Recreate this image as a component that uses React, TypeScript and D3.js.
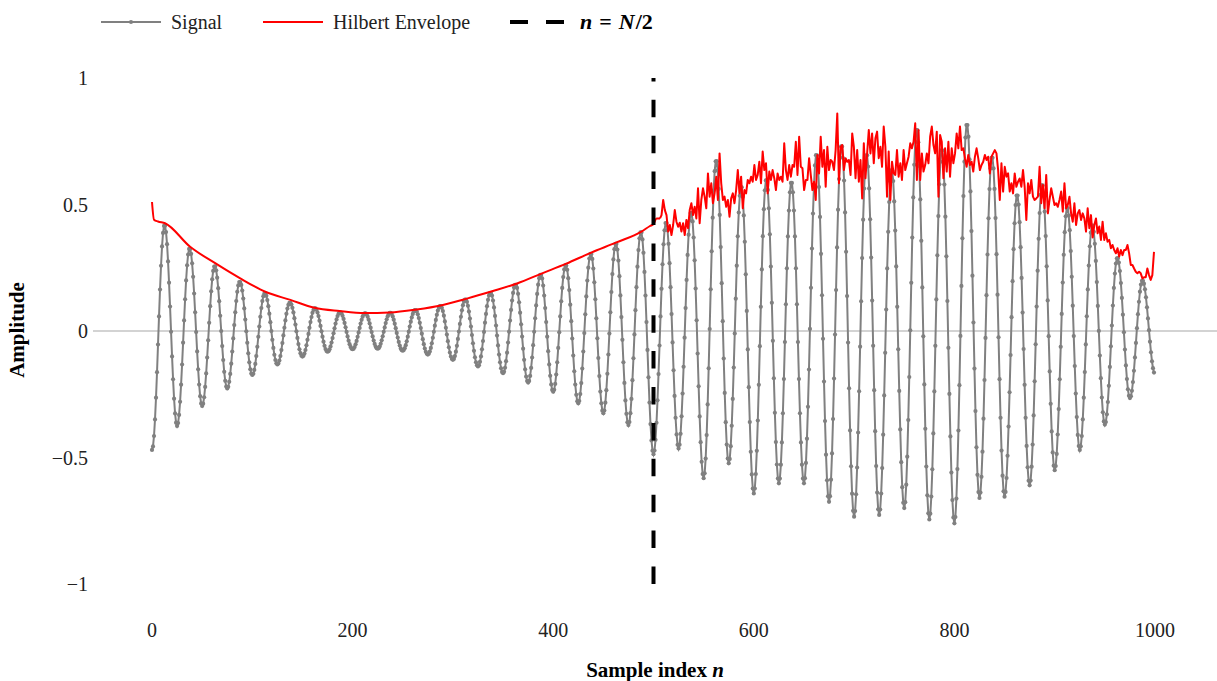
import React from "react";
import * as d3 from "d3";

// Axis ticks
const X_TICKS = [0, 200, 400, 600, 800, 1000];
const Y_TICKS = [-1, -0.5, 0, 0.5, 1];

// Signal: 1000 samples, one cycle every 25 samples.
const N_SAMPLES = 1000;
const HALF_CYCLE = 12.5;
const MIDPOINT = 500;

// Trough values at n = 0, 25, 50, ..., 1000
const TROUGHS = [
  -0.47, -0.375, -0.296, -0.227, -0.174, -0.132, -0.101, -0.082, -0.072, -0.07,
  -0.078, -0.093, -0.114, -0.14, -0.167, -0.204, -0.24, -0.286, -0.325, -0.372,
  -0.487, -0.464, -0.582, -0.523, -0.642, -0.602, -0.602, -0.675, -0.734, -0.727,
  -0.7, -0.745, -0.76, -0.66, -0.655, -0.61, -0.55, -0.47, -0.37, -0.265, -0.17,
];

// Peak values at n = 12.5, 37.5, ..., 987.5
const PEAKS = [
  0.419, 0.327, 0.257, 0.195, 0.149, 0.112, 0.09, 0.074, 0.07, 0.072,
  0.083, 0.099, 0.125, 0.151, 0.184, 0.224, 0.261, 0.307, 0.347, 0.393,
  0.43, 0.47, 0.676, 0.573, 0.6, 0.59, 0.7, 0.735, 0.7, 0.64,
  0.8, 0.72, 0.82, 0.69, 0.54, 0.58, 0.49, 0.42, 0.29, 0.2,
];

// Hilbert envelope, smooth first half (sample index, amplitude)
const ENV_SMOOTH_N = [
  0, 2, 6, 13, 38, 63, 88, 113, 138, 162, 187, 212, 237, 264, 289, 314, 339,
  364, 389, 413, 438, 463, 488, 496.5, 500, 503, 506.5,
];
const ENV_SMOOTH_V = [
  0.51, 0.44, 0.433, 0.426, 0.333, 0.268, 0.208, 0.155, 0.123, 0.092, 0.079,
  0.071, 0.073, 0.085, 0.102, 0.128, 0.157, 0.188, 0.228, 0.266, 0.31, 0.35,
  0.393, 0.415, 0.423, 0.445, 0.445,
];

// Hilbert envelope, noisy second half, evenly spaced from n = 508 to n = 999
const ENV_NOISY_START = 508;
const ENV_NOISY_END = 999;
const ENV_NOISY = [
  0.458, 0.518, 0.478, 0.458, 0.393, 0.419, 0.379, 0.419, 0.478, 0.432,
  0.412, 0.428, 0.393, 0.426, 0.379, 0.439, 0.406, 0.478, 0.505, 0.458,
  0.491, 0.445, 0.564, 0.426, 0.518, 0.564, 0.531, 0.485, 0.623, 0.531,
  0.584, 0.505, 0.544, 0.61, 0.518, 0.702, 0.584, 0.518, 0.531, 0.491,
  0.518, 0.452, 0.524, 0.544, 0.505, 0.557, 0.636, 0.544, 0.61, 0.485,
  0.557, 0.544, 0.597, 0.584, 0.61, 0.59, 0.656, 0.597, 0.617, 0.669,
  0.584, 0.709, 0.636, 0.663, 0.544, 0.63, 0.597, 0.636, 0.604, 0.557,
  0.623, 0.597, 0.61, 0.59, 0.742, 0.636, 0.597, 0.656, 0.61, 0.656,
  0.649, 0.748, 0.617, 0.768, 0.649, 0.643, 0.557, 0.597, 0.597, 0.683,
  0.617, 0.557, 0.59, 0.518, 0.696, 0.623,
  0.768, 0.649, 0.715, 0.57, 0.728, 0.636, 0.676, 0.669, 0.636, 0.715,
  0.86, 0.584, 0.728, 0.735, 0.636, 0.683, 0.669, 0.676, 0.617, 0.781,
  0.728, 0.604, 0.715, 0.59, 0.676, 0.524, 0.742, 0.604, 0.702, 0.794,
  0.702, 0.781, 0.663, 0.762, 0.788, 0.683, 0.728, 0.649, 0.808, 0.728,
  0.531, 0.709, 0.518, 0.669, 0.623, 0.617, 0.715, 0.61, 0.663, 0.597,
  0.715, 0.636, 0.663, 0.689, 0.742, 0.722, 0.748, 0.821, 0.597, 0.794,
  0.597, 0.702, 0.63, 0.656, 0.702, 0.663, 0.768, 0.808, 0.735, 0.702,
  0.788, 0.531, 0.775, 0.748, 0.604, 0.722, 0.63, 0.748, 0.61, 0.722,
  0.663, 0.702, 0.781, 0.722, 0.808, 0.715, 0.722, 0.683, 0.649, 0.696,
  0.656, 0.669, 0.63, 0.689, 0.722, 0.683, 0.636, 0.656, 0.669,
  0.696, 0.676, 0.689, 0.623, 0.689, 0.702, 0.715, 0.702, 0.636, 0.518,
  0.663, 0.551, 0.649, 0.61, 0.623, 0.551, 0.584, 0.544, 0.623, 0.57,
  0.59, 0.603, 0.57, 0.636, 0.57, 0.439, 0.584, 0.544, 0.597, 0.531,
  0.518, 0.524, 0.531, 0.649, 0.505, 0.577, 0.485, 0.617, 0.465, 0.518,
  0.564, 0.531, 0.498, 0.505, 0.491, 0.518, 0.551, 0.472, 0.584, 0.485,
  0.498, 0.531, 0.465, 0.432, 0.505, 0.419, 0.465, 0.478, 0.439, 0.465,
  0.445, 0.393, 0.485, 0.406, 0.458, 0.37, 0.419, 0.445, 0.386, 0.413,
  0.36, 0.432, 0.36, 0.386, 0.353, 0.36, 0.327, 0.34, 0.32, 0.307,
  0.327, 0.294, 0.32, 0.3, 0.32, 0.32, 0.34, 0.307, 0.261, 0.261,
  0.247, 0.234, 0.228, 0.234, 0.228, 0.208, 0.212, 0.212, 0.247, 0.221,
  0.202, 0.221, 0.313,
];

const W = 1217;
const H = 681;
const FONT = "Liberation Serif, DejaVu Serif, serif";
const GRAY = "#808080";

// Sample value between consecutive extrema, following a half-cosine swing
function sampleAt(n: number): number {
  const j = Math.floor(n / HALF_CYCLE);
  const ext = (k: number) =>
    k % 2 === 0 ? TROUGHS[Math.min(k / 2, TROUGHS.length - 1)] : PEAKS[(k - 1) / 2];
  if (j >= 2 * PEAKS.length) return TROUGHS[TROUGHS.length - 1];
  const t = (n - j * HALF_CYCLE) / HALF_CYCLE;
  const a = ext(j);
  const b = ext(j + 1);
  return a + ((b - a) * (1 - Math.cos(Math.PI * t))) / 2;
}

const txt = (size: number, extra: React.CSSProperties = {}): React.CSSProperties => ({
  fontFamily: FONT,
  fontSize: size,
  ...extra,
});

export default function App() {
  const x = d3.scaleLinear().domain([0, 1000]).range([152, 1155]);
  const y = d3.scaleLinear().domain([-1, 1]).range([584, 78]);

  const signal = d3.range(N_SAMPLES).map((n) => ({ n, v: sampleAt(n) }));

  const line = d3
    .line<{ n: number; v: number }>()
    .x((d) => x(d.n))
    .y((d) => y(d.v));

  const smoothEnv = ENV_SMOOTH_N.map((n, i) => ({ n, v: ENV_SMOOTH_V[i] }));
  const noisyStep = (ENV_NOISY_END - ENV_NOISY_START) / (ENV_NOISY.length - 1);
  const noisyEnv = [smoothEnv[smoothEnv.length - 1]].concat(
    ENV_NOISY.map((v, i) => ({ n: ENV_NOISY_START + i * noisyStep, v }))
  );
  const smoothPath = d3
    .line<{ n: number; v: number }>()
    .x((d) => x(d.n))
    .y((d) => y(d.v))
    .curve(d3.curveMonotoneX)(smoothEnv);

  const fmt = (v: number) => (v < 0 ? "\u2212" + String(-v) : String(v));

  return (
    <svg
      width={W}
      height={H}
      style={{ position: "absolute", left: 0, top: 0, display: "block", background: "#fff" }}
    >
      {/* zero line */}
      <line x1={93} x2={W} y1={y(0)} y2={y(0)} stroke="#c4c4c4" strokeWidth={1.6} />

      {/* signal */}
      <path d={line(signal) ?? ""} fill="none" stroke={GRAY} strokeWidth={2} />
      {signal.map((d) => (
        <circle key={d.n} cx={x(d.n)} cy={y(d.v)} r={2.1} fill={GRAY} />
      ))}

      {/* envelope */}
      <path d={smoothPath ?? ""} fill="none" stroke="#ff0000" strokeWidth={2} />
      <path d={line(noisyEnv) ?? ""} fill="none" stroke="#ff0000" strokeWidth={2} strokeLinejoin="round" />

      {/* n = N/2 marker */}
      <line
        x1={x(MIDPOINT)}
        x2={x(MIDPOINT)}
        y1={y(-1)}
        y2={y(1)}
        stroke="#000"
        strokeWidth={4}
        strokeDasharray="17.5 18.4"
      />

      {/* y ticks */}
      {Y_TICKS.map((t) => (
        <text key={t} x={88} y={y(t)} dy="0.35em" textAnchor="end" style={txt(20)} fill="#222">
          {fmt(t)}
        </text>
      ))}
      {/* x ticks */}
      {X_TICKS.map((t) => (
        <text key={t} x={x(t)} y={637} textAnchor="middle" style={txt(20)} fill="#222">
          {t}
        </text>
      ))}

      {/* axis titles */}
      <text x={655} y={677} textAnchor="middle" style={txt(21, { fontWeight: "bold" })} fill="#000">
        Sample index <tspan style={{ fontStyle: "italic" }}>n</tspan>
      </text>
      <text
        transform={`translate(24, 330) rotate(-90)`}
        textAnchor="middle"
        style={txt(21, { fontWeight: "bold" })}
        fill="#000"
      >
        Amplitude
      </text>

      {/* legend */}
      <g>
        <line x1={101} x2={161} y1={22} y2={22} stroke={GRAY} strokeWidth={2} />
        <circle cx={131} cy={22} r={2.1} fill={GRAY} />
        <text x={171} y={22} dy="0.33em" style={txt(20)} fill="#222">
          Signal
        </text>
        <line x1={263} x2={323} y1={22} y2={22} stroke="#ff0000" strokeWidth={2} />
        <text x={333} y={22} dy="0.33em" style={txt(20)} fill="#222">
          Hilbert Envelope
        </text>
        <line
          x1={510}
          x2={564}
          y1={22}
          y2={22}
          stroke="#000"
          strokeWidth={4}
          strokeDasharray="18 18"
        />
        <text x={580} y={22} dy="0.33em" style={txt(22, { fontWeight: "bold" })} fill="#000">
          <tspan style={{ fontStyle: "italic" }}>n</tspan>
          <tspan dx={7}>=</tspan>
          <tspan dx={7} style={{ fontStyle: "italic" }}>N</tspan>
          <tspan dx={1}>/2</tspan>
        </text>
      </g>
    </svg>
  );
}
